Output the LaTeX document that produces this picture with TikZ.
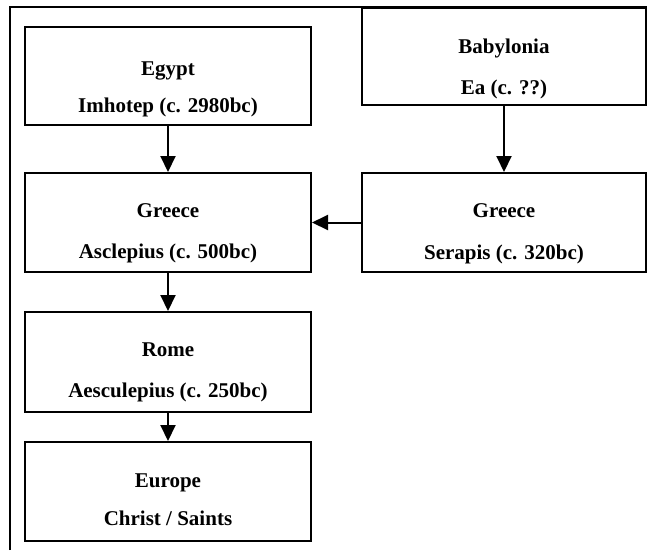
\documentclass[tikz,border=0pt]{standalone}
\usepackage{fontspec}
\setmainfont{Liberation Serif}
\usetikzlibrary{arrows.meta}
\begin{document}
\begin{tikzpicture}[x=1pt,y=-1pt,
  box/.style={draw, line width=2pt, inner sep=0pt},
  txt/.style={anchor=base, inner sep=0pt, font=\fontsize{21}{24}\selectfont\bfseries},
  arr/.style={line width=2pt, -{Triangle[length=16pt,width=15pt]}},
  frame/.style={line width=2.8pt}]
\useasboundingbox (0,0) rectangle (647,550);
% outer frame
\coordinate (fBL) at (10,550);
\coordinate (fTL) at (10,7);
\coordinate (fTR) at (647,7);
\draw[frame] (fBL) -- (fTL) -- (fTR);
% boxes
\node[box, minimum width=286pt, minimum height=98pt] (egypt) at (168,76) {};
\node[box, minimum width=284pt, minimum height=97pt] (babylon) at (504,56.5) {};
\node[box, minimum width=286pt, minimum height=99pt] (greeceL) at (168,222.5) {};
\node[box, minimum width=284pt, minimum height=99pt] (greeceR) at (504,222.5) {};
\node[box, minimum width=286pt, minimum height=100pt] (rome) at (168,362) {};
\node[box, minimum width=286pt, minimum height=99pt] (europe) at (168,491.5) {};
% texts
\node[txt] (egyptA) at (168,75) {Egypt};
\node[txt] (egyptB) at (168,112) {Imhotep (c. 2980bc)};
\node[txt] (babylonA) at (504,53) {Babylonia};
\node[txt] (babylonB) at (504,94) {Ea (c. ??)};
\node[txt] (greeceLA) at (168,217) {Greece};
\node[txt] (greeceLB) at (168,258) {Asclepius (c. 500bc)};
\node[txt] (greeceRA) at (504,217) {Greece};
\node[txt] (greeceRB) at (504,259) {Serapis (c. 320bc)};
\node[txt] (romeA) at (168,356) {Rome};
\node[txt] (romeB) at (168,397) {Aesculepius (c. 250bc)};
\node[txt] (europeA) at (168,487) {Europe};
\node[txt] (europeB) at (168,525) {Christ / Saints};
% connectors
\draw[arr] (egypt.south) -- (greeceL.north);
\draw[arr] (babylon.south) -- (greeceR.north);
\draw[arr] (greeceR.west) -- (greeceL.east);
\draw[arr] (greeceL.south) -- (rome.north);
\draw[arr] (rome.south) -- (europe.north);
\end{tikzpicture}
\end{document}
